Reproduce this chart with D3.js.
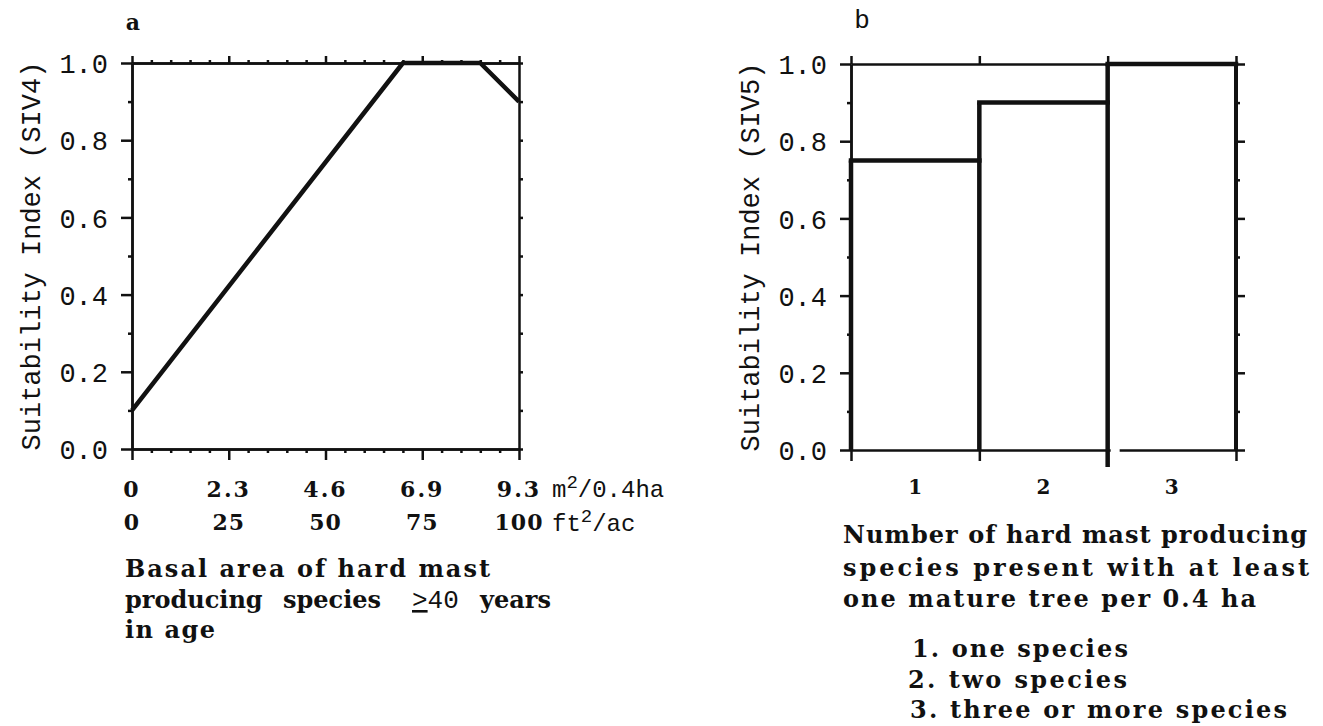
<!DOCTYPE html>
<html>
<head>
<meta charset="utf-8">
<script src="https://cdn.jsdelivr.net/npm/d3@7"></script>
<style>
  body { margin: 0; background: #fff; }
  .mono { font-family: "Liberation Mono", "DejaVu Sans Mono", monospace; fill: #111; }
  .bold { font-family: "DejaVu Serif", "Liberation Serif", serif; font-weight: bold; fill: #111; }
  .axis path, .axis line { stroke: #111; stroke-width: 2.5; }
</style>
</head>
<body>
<svg id="chart" width="1323" height="726"></svg>
<script>
// panel a: basal area (ft2/ac) vs SI
var basalFt = [0, 70, 90, 100];
var siv4 = [0.1, 1.0, 1.0, 0.9];
var ftTicks = [0, 25, 50, 75, 100];
var ftLabels = ["0", "25", "50", "75", "100"];
var m2Labels = ["0", "2.3", "4.6", "6.9", "9.3"];

// panel b: number of species vs SI
var speciesCats = ["1", "2", "3"];
var siv5 = [0.75, 0.9, 1.0];

var yTicks = [0, 0.2, 0.4, 0.6, 0.8, 1.0];
var yMinor = [0.1, 0.3, 0.5, 0.7, 0.9];

var svg = d3.select("#chart");

function styleAxis(g) {
    g.attr("class", "axis");
    g.selectAll("text").remove();
}

// ---------- panel a ----------
var xA = d3.scaleLinear().domain([0, 100]).range([132, 519]);
var yA = d3.scaleLinear().domain([0, 1]).range([449, 63]);
var ftMinor = d3.range(5, 100, 5).filter(function(d) { return d % 25 !== 0; });

var gA = svg.append("g");

gA.append("g").attr("transform", "translate(132,0)")
    .call(d3.axisLeft(yA).tickValues(yTicks).tickSize(11).tickSizeOuter(0).tickPadding(13)
        .tickFormat(d3.format(".1f")))
    .attr("class", "axis")
    .selectAll("text").attr("class", "mono").style("font-size", "27px").attr("dy", "0.36em");
gA.append("g").attr("transform", "translate(132,0)")
    .call(d3.axisLeft(yA).tickValues(yMinor).tickSize(4).tickSizeOuter(0)).call(styleAxis);
gA.append("g").attr("transform", "translate(519,0)")
    .call(d3.axisRight(yA).tickValues(yTicks.concat(yMinor)).tickSize(4).tickSizeOuter(0)).call(styleAxis);
gA.append("g").attr("transform", "translate(0,449)")
    .call(d3.axisBottom(xA).tickValues(ftTicks).tickSize(11).tickSizeOuter(0)).call(styleAxis);
gA.append("g").attr("transform", "translate(0,449)")
    .call(d3.axisBottom(xA).tickValues(ftMinor).tickSize(4).tickSizeOuter(0)).call(styleAxis);
gA.append("g").attr("transform", "translate(0,63)")
    .call(d3.axisTop(xA).tickValues(ftTicks).tickSize(7).tickSizeOuter(0)).call(styleAxis);
gA.append("g").attr("transform", "translate(0,63)")
    .call(d3.axisTop(xA).tickValues(ftMinor).tickSize(3).tickSizeOuter(0)).call(styleAxis);

var lineA = d3.line().x(function(d, i) { return xA(basalFt[i]); }).y(function(d) { return yA(d); });
gA.append("path").datum(siv4).attr("d", lineA)
    .attr("fill", "none").attr("stroke", "#111").attr("stroke-width", 4.5).attr("stroke-linejoin", "round");

gA.append("text").attr("class", "bold").attr("x", 133).attr("y", 30)
    .attr("text-anchor", "middle").style("font-size", "22px").text("a");

gA.append("text").attr("class", "mono").style("font-size", "27px")
    .attr("transform", "translate(40," + yA(0.5) + ") rotate(-90)")
    .attr("text-anchor", "middle").text("Suitability Index (SIV4)");

gA.selectAll("text.m2").data(m2Labels).enter().append("text")
    .attr("class", "bold m2").style("font-size", "22px").style("letter-spacing", "2px")
    .attr("x", function(d, i) { return xA(ftTicks[i]); }).attr("y", 497)
    .attr("text-anchor", "middle").text(function(d) { return d; });
gA.selectAll("text.ft").data(ftLabels).enter().append("text")
    .attr("class", "bold ft").style("font-size", "22px").style("letter-spacing", "1px")
    .attr("x", function(d, i) { return xA(ftTicks[i]); }).attr("y", 530)
    .attr("text-anchor", "middle").text(function(d) { return d; });

var u1 = gA.append("text").attr("class", "mono").style("font-size", "24px").attr("x", 552).attr("y", 497);
u1.append("tspan").text("m");
u1.append("tspan").attr("dy", -9).style("font-size", "19px").text("2");
u1.append("tspan").attr("dy", 9).text("/0.4ha");
var u2 = gA.append("text").attr("class", "mono").style("font-size", "24px").attr("x", 552).attr("y", 531);
u2.append("tspan").text("ft");
u2.append("tspan").attr("dy", -9).style("font-size", "19px").text("2");
u2.append("tspan").attr("dy", 9).text("/ac");

var capA = gA.append("g").style("font-size", "24px");
capA.append("text").attr("class", "bold").attr("x", 125).attr("y", 577)
    .attr("textLength", 365).attr("lengthAdjust", "spacing").text("Basal area of hard mast");
var cl2 = capA.append("text").attr("class", "bold").attr("y", 608);
cl2.append("tspan").attr("x", 125).text("producing");
cl2.append("tspan").attr("x", 283).text("species");
cl2.append("tspan").attr("x", 412).attr("class", "mono").style("font-weight", "normal")
    .style("font-size", "26px").style("text-decoration", "underline").text(">");
cl2.append("tspan").attr("class", "mono").style("font-weight", "normal").style("font-size", "26px").text("40");
cl2.append("tspan").attr("x", 480).text("years");
capA.append("text").attr("class", "bold").attr("x", 125).attr("y", 638)
    .attr("textLength", 90).attr("lengthAdjust", "spacing").text("in age");

// ---------- panel b ----------
var xB = d3.scaleLinear().domain([0, 3]).range([851, 1236]);
var yB = d3.scaleLinear().domain([0, 1]).range([450, 64]);
var bounds = [0, 1, 2, 3];

var gB = svg.append("g");

gB.append("g").attr("transform", "translate(851,0)")
    .call(d3.axisLeft(yB).tickValues(yTicks).tickSize(11).tickSizeOuter(0).tickPadding(13)
        .tickFormat(d3.format(".1f")))
    .attr("class", "axis")
    .selectAll("text").attr("class", "mono").style("font-size", "27px").attr("dy", "0.36em");
gB.append("g").attr("transform", "translate(851,0)")
    .call(d3.axisLeft(yB).tickValues(yMinor).tickSize(4).tickSizeOuter(0)).call(styleAxis);
gB.append("g").attr("transform", "translate(1236,0)")
    .call(d3.axisRight(yB).tickValues(yTicks).tickSize(9).tickSizeOuter(0)).call(styleAxis);
gB.append("g").attr("transform", "translate(1236,0)")
    .call(d3.axisRight(yB).tickValues(yMinor).tickSize(4).tickSizeOuter(0)).call(styleAxis);
gB.append("g").attr("transform", "translate(0,450)")
    .call(d3.axisBottom(xB).tickValues([0, 1, 3]).tickSize(11).tickSizeOuter(0)).call(styleAxis);
gB.append("g").attr("transform", "translate(0,64)")
    .call(d3.axisTop(xB).tickValues(bounds).tickSize(8).tickSizeOuter(0)).call(styleAxis);

// gap in the baseline right of the third-step riser
gB.append("line").attr("x1", xB(2) + 3).attr("x2", xB(2) + 12)
    .attr("y1", 450).attr("y2", 450).attr("stroke", "#fff").attr("stroke-width", 4);

// steps
gB.selectAll("line.tread").data(siv5).enter().append("line")
    .attr("class", "tread")
    .attr("x1", function(d, i) { return xB(i); }).attr("x2", function(d, i) { return xB(i + 1); })
    .attr("y1", function(d) { return yB(d); }).attr("y2", function(d) { return yB(d); })
    .attr("stroke", "#111").attr("stroke-width", 4.5).attr("stroke-linecap", "square");
gB.selectAll("line.riser").data(siv5).enter().append("line")
    .attr("class", "riser")
    .attr("x1", function(d, i) { return xB(i); }).attr("x2", function(d, i) { return xB(i); })
    .attr("y1", function(d, i) { return i === 2 ? yB(0) + 17 : yB(0); })
    .attr("y2", function(d) { return yB(d); })
    .attr("stroke", "#111").attr("stroke-width", 4.5);
gB.append("line").attr("x1", xB(3)).attr("x2", xB(3))
    .attr("y1", yB(0)).attr("y2", yB(siv5[2]))
    .attr("stroke", "#111").attr("stroke-width", 4);

gB.selectAll("text.cat").data(speciesCats).enter().append("text")
    .attr("class", "bold cat").style("font-size", "20px")
    .attr("x", function(d, i) { return xB(i + 0.5); }).attr("y", 494)
    .attr("text-anchor", "middle").text(function(d) { return d; });

gB.append("text").attr("class", "mono").attr("x", 862).attr("y", 28)
    .attr("text-anchor", "middle").style("font-size", "26px").text("b");

gB.append("text").attr("class", "mono").style("font-size", "27px")
    .attr("transform", "translate(759," + yB(0.5) + ") rotate(-90)")
    .attr("text-anchor", "middle").text("Suitability Index (SIV5)");

var capB = [
    {t: "Number of hard mast producing", x: 843, y: 543, w: 464},
    {t: "species present with at least", x: 843, y: 576, w: 466},
    {t: "one mature tree per 0.4 ha", x: 843, y: 607, w: 413},
    {t: "1.  one species", x: 912, y: 657, w: 216},
    {t: "2. two species", x: 908, y: 688, w: 219},
    {t: "3.  three or more species", x: 910, y: 718, w: 377}
];
gB.selectAll("text.cap").data(capB).enter().append("text")
    .attr("class", "bold cap").style("font-size", "24px")
    .attr("x", function(d) { return d.x; }).attr("y", function(d) { return d.y; })
    .attr("textLength", function(d) { return d.w; }).attr("lengthAdjust", "spacing")
    .text(function(d) { return d.t; });
</script>
</body>
</html>
